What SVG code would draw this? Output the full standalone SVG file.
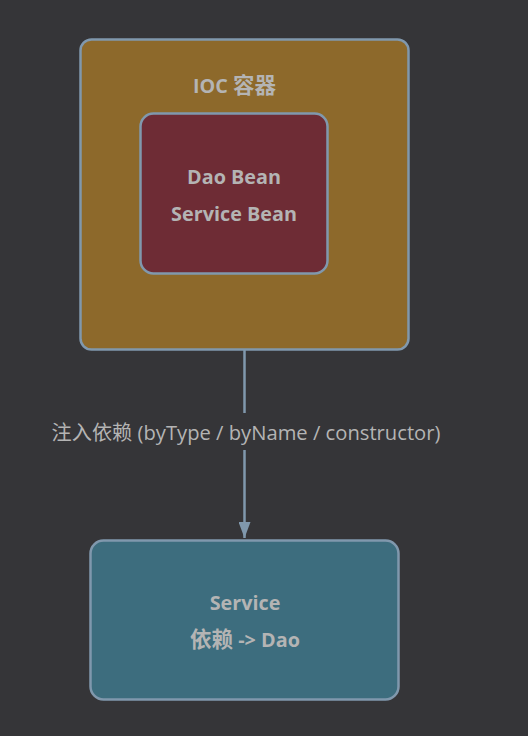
<svg xmlns="http://www.w3.org/2000/svg" width="528" height="736" viewBox="0 0 528 736">
<style>
.box{stroke:#8098ad;stroke-width:2.5}
.t{font-family:"Open Sans","Noto Sans CJK SC",sans-serif;font-weight:bold;font-size:19.8px;fill:#b4b4b4;text-anchor:middle}
.l{font-family:"Open Sans","Noto Sans CJK SC",sans-serif;font-size:20.2px;fill:#b4b4b4;text-anchor:middle}
.c{font-size:21.5px}
</style>
<defs>
<marker id="ah" markerWidth="16" markerHeight="12" refX="16" refY="6" orient="auto" markerUnits="userSpaceOnUse">
<path d="M0,0 L16,6 L0,12 Z" fill="#8098ad"/>
</marker>
</defs>
<rect width="528" height="736" fill="#353538"/>
<g id="ioc">
<rect class="box" x="80.5" y="39.5" width="328" height="310" rx="11" fill="#8d692b"/>
<text class="t" x="234.5" y="93">IOC <tspan class="c">容器</tspan></text>
</g>
<g id="beans">
<rect class="box" x="140.5" y="113.5" width="187" height="160" rx="13" fill="#6e2c35"/>
<text class="t" x="234" y="184">Dao Bean</text>
<text class="t" x="234" y="221">Service Bean</text>
</g>
<g id="service">
<rect class="box" x="90.5" y="540.5" width="308" height="159" rx="13" fill="#3d6d7e"/>
<text class="t" x="245" y="610">Service</text>
<text class="t" x="245" y="647"><tspan class="c">依赖</tspan> -&gt; Dao</text>
</g>
<g id="connectors">
<line x1="244.5" y1="350" x2="244.5" y2="413" stroke="#8098ad" stroke-width="2.5"/>
<line x1="244.5" y1="450" x2="244.5" y2="538" stroke="#8098ad" stroke-width="2.5" marker-end="url(#ah)"/>
<text class="l" x="246" y="440">注入依赖 (byType / byName / constructor)</text>
</g>
</svg>
